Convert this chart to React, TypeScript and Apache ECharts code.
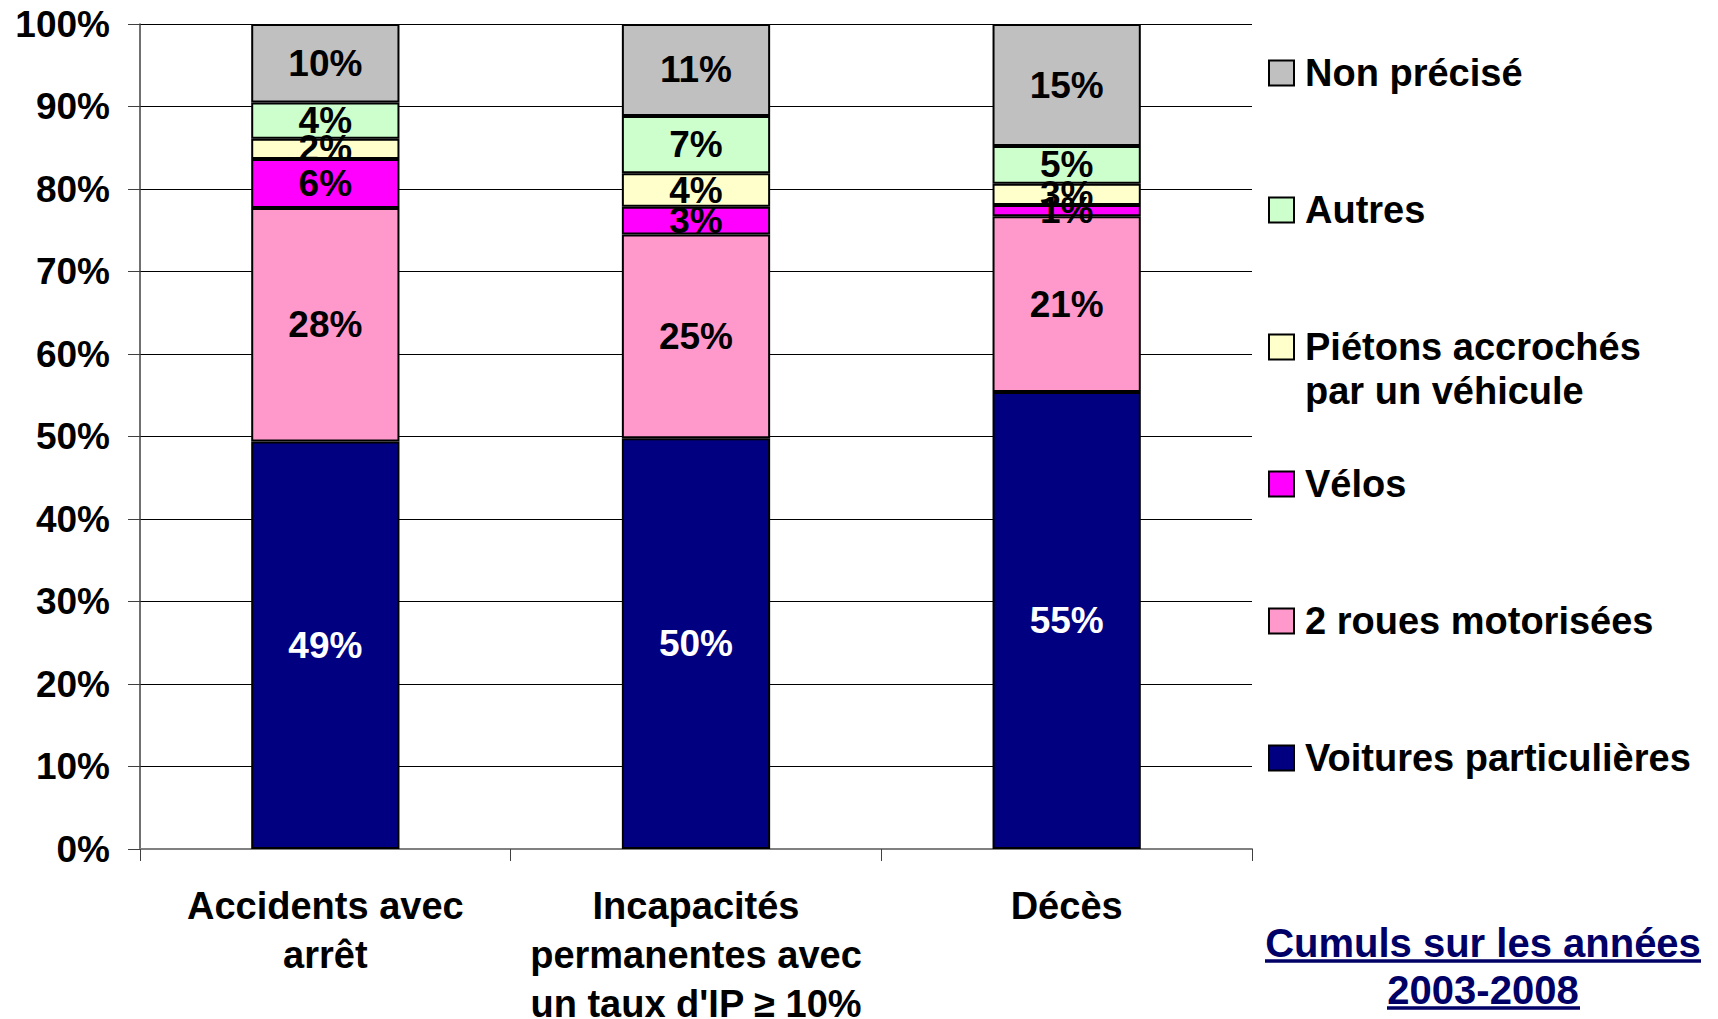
import React, { useEffect, useRef } from "react";
import * as echarts from "echarts";

const categories = [
  "Accidents avec\narrêt",
  "Incapacités\npermanentes avec\nun taux d'IP ≥ 10%",
  "Décès",
];
const seriesNames = [
  "Voitures particulières",
  "2 roues motorisées",
  "Vélos",
  "Piétons accrochés par un véhicule",
  "Autres",
  "Non précisé",
];
const voitures = [49.4, 49.8, 55.4];
const deuxRoues = [28.3, 24.7, 21.3];
const velos = [5.95, 3.35, 1.35];
const pietons = [2.45, 4.05, 2.6];
const autres = [4.4, 6.95, 4.55];
const nonPrecise = [9.5, 11.15, 14.8];
const seriesValues = [voitures, deuxRoues, velos, pietons, autres, nonPrecise];
const seriesColors = ["#000080", "#FF99CC", "#FF00FF", "#FFFFCC", "#CCFFCC", "#C0C0C0"];
const labelColors = ["#FFFFFF", "#000", "#000", "#000", "#000", "#000"];
const yTicks = [0, 10, 20, 30, 40, 50, 60, 70, 80, 90, 100];
const legendCenters = [758, 621, 484, 347, 210, 73];
const noteLines = ["Cumuls sur les années", "2003-2008"];

const FONT = 'Arial, "Liberation Sans", sans-serif';

export default function App() {
  const ref = useRef<HTMLDivElement>(null);
  useEffect(() => {
    if (!ref.current) return;
    const chart = echarts.init(ref.current, undefined, { renderer: "svg" });
    const L = 44;
    const legends = seriesNames.map((name, i) => {
      const multi = name.startsWith("Piétons");
      return {
        data: [name],
        orient: "vertical",
        left: 1268,
        top: multi ? legendCenters[i] - 1.5 * L : legendCenters[i] - L / 2,
        padding: 0,
        itemWidth: 25,
        itemHeight: 25,
        icon: "rect",
        selectedMode: false,
        formatter: (n: string) =>
          n.startsWith("Piétons") ? "\nPiétons accrochés\npar un véhicule" : n,
        textStyle: {
          fontSize: 38,
          fontWeight: "bold",
          fontFamily: FONT,
          color: "#000",
          lineHeight: L,
          padding: [0, 0, 0, 6],
        },
      };
    });
    const option: any = {
      animation: false,
      backgroundColor: "#fff",
      textStyle: { fontFamily: FONT },
      grid: {
        left: 140,
        right: 466,
        top: 24,
        bottom: 170,
        containLabel: false,
        outerBoundsMode: "none",
      },
      legend: legends,
      xAxis: {
        type: "category",
        data: categories,
        axisLine: { show: true, lineStyle: { color: "#808080", width: 2 } },
        axisTick: { show: true, length: 12, alignWithLabel: false, lineStyle: { color: "#404040", width: 1 } },
        axisLabel: {
          interval: 0,
          margin: 32,
          fontSize: 38,
          fontWeight: "bold",
          fontFamily: FONT,
          color: "#000",
          lineHeight: 49,
        },
      },
      yAxis: {
        type: "value",
        min: yTicks[0],
        max: yTicks[yTicks.length - 1],
        interval: 10,
        axisLine: { show: true, lineStyle: { color: "#404040", width: 1.5 } },
        axisTick: { show: true, length: 12, lineStyle: { color: "#404040", width: 1 } },
        axisLabel: {
          margin: 30,
          fontSize: 37,
          fontWeight: "bold",
          fontFamily: FONT,
          color: "#000",
          formatter: "{value}%",
        },
        splitLine: { show: true, lineStyle: { color: "#000", width: 1 } },
      },
      series: seriesNames.map((name, i) => ({
        name,
        type: "bar",
        stack: "total",
        barWidth: "40%",
        data: seriesValues[i],
        itemStyle: { color: seriesColors[i], borderColor: "#000", borderWidth: 2 },
        label: {
          show: true,
          position: "inside",
          fontSize: 37,
          fontWeight: "bold",
          fontFamily: FONT,
          color: labelColors[i],
          formatter: (p: any) => Math.round(p.value) + "%",
        },
      })),
      graphic: [
        {
          type: "text",
          x: 1483,
          y: 943,
          style: {
            text: noteLines[0],
            fontSize: 40,
            fontWeight: "bold",
            fontFamily: FONT,
            fill: "#000066",
            align: "center",
            verticalAlign: "middle",
          },
        },
        {
          type: "text",
          x: 1483,
          y: 990,
          style: {
            text: noteLines[1],
            fontSize: 40,
            fontWeight: "bold",
            fontFamily: FONT,
            fill: "#000066",
            align: "center",
            verticalAlign: "middle",
          },
        },
        {
          type: "line",
          shape: { x1: 1265, y1: 961, x2: 1701, y2: 961 },
          style: { stroke: "#000066", lineWidth: 3.5 },
        },
        {
          type: "line",
          shape: { x1: 1387, y1: 1008, x2: 1580, y2: 1008 },
          style: { stroke: "#000066", lineWidth: 3.5 },
        },
      ],
    };
    chart.setOption(option);
    return () => chart.dispose();
  }, []);
  return (
    <div
      ref={ref}
      style={{ position: "absolute", left: 0, top: 0, width: 1718, height: 1019, background: "#fff" }}
    />
  );
}
